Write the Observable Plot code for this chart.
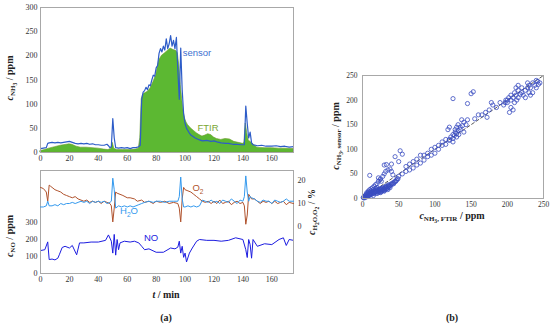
<!DOCTYPE html>
<html><head><meta charset="utf-8">
<script src="https://cdn.jsdelivr.net/npm/d3@7"></script>
<script src="https://cdn.jsdelivr.net/npm/@observablehq/plot@0.6"></script>
<style>
html,body{margin:0;padding:0;background:#fff;}
#wrap{position:relative;width:550px;height:329px;overflow:hidden;background:#fff;}
.p{position:absolute;}
.lab{position:absolute;white-space:nowrap;font-family:"Liberation Serif",serif;transform:translate(-50%,-50%);line-height:1;}
.rot{transform:translate(-50%,-50%) rotate(-90deg);}
.ser{font-weight:bold;font-size:10px;color:#222;}
.ser i{font-style:italic;}
sub{font-size:70%;vertical-align:-0.35em;line-height:0;}
sub sub{font-size:80%;}
.leg{position:absolute;white-space:nowrap;font-family:"Liberation Sans",Arial,sans-serif;font-size:9.5px;transform:translate(-50%,-50%);line-height:1;}
</style></head>
<body><div id="wrap"></div>
<script>
// ---- top panel: NH3 sensor vs FTIR over time (min, ppm)
const sensorT = [0,2,4,5,6,8,10,12,14,16,18,20,22,24,26,28,30,32,34,36,38,40,42,44,46,47,48,49,50,51,52,54,56,58,60,62,64,66,68,69,70,71,72,73,74,75,76,77,78,79,80,81,82,83,84,85,86,87,88,89,90,91,92,93,94,95,96,97,98,99,100,101,102,103,104,105,107,110,112,115,118,120,122,125,128,130,133,136,139,141,142,143,144,145,146,147,150,153,156,160,163,166,169,172,175];
const sensorV = [8,9,10,19,20,21,20,21,20,21,22,23,21,19,18,19,18,19,17,18,16,16,15,15,17,14,10,12,70,30,10,9,10,9,10,8,10,10,12,15,110,125,128,135,130,140,138,150,160,158,175,180,205,215,208,220,212,235,215,225,242,220,232,215,238,170,110,216,130,80,60,50,45,40,36,34,30,26,24,25,23,24,22,20,19,19,17,17,16,16,96,60,30,42,20,16,14,15,13,13,14,12,13,11,12];
const ftirT = [0,3,6,10,14,18,20,22,25,28,32,36,40,44,47,49,50,51,53,57,62,66,68,69,70,71,72,74,76,78,80,82,84,86,88,90,92,94,95,96,97,98,99,100,101,102,104,106,108,110,112,114,116,118,120,122,125,128,131,134,137,140,141,142,143,144,146,148,150,155,160,165,170,175];
const ftirV = [3,5,8,11,14,16,17,16,12,10,10,9,8,6,5,8,20,8,5,5,5,6,8,30,110,120,122,125,132,145,160,190,200,205,210,215,212,210,205,180,140,110,85,70,62,57,50,45,40,36,33,35,38,36,31,28,26,28,27,22,20,18,20,60,40,25,20,15,10,9,9,8,8,7];

// ---- bottom panel: NO (ppm), O2 and H2O (%)
const noT = [0,3,5,6,8,10,12,13,15,17,20,22,25,27,30,35,40,45,47,49,50,51,52,53,54,55,58,62,65,68,70,72,75,80,85,90,93,95,96,97,98,99,100,101,103,105,108,110,115,120,125,130,135,140,142,143,144,145,146,147,150,155,160,165,168,170,172,175];
const noV = [135,140,186,82,85,80,90,110,153,160,150,165,110,180,180,185,185,195,227,190,120,230,108,200,140,180,190,185,190,180,160,140,145,125,125,150,145,155,190,120,160,95,120,68,120,150,190,200,195,195,190,195,210,200,140,94,200,170,90,200,160,175,170,200,210,165,200,195];
const o2T = [0,2,4,5,6,7,8,10,12,14,16,18,20,22,24,26,28,30,32,34,36,38,40,42,44,46,48,49,50,51,52,53,55,57,60,62,65,67,70,72,75,78,80,83,86,89,92,95,96,97,98,99,100,102,104,106,108,110,112,114,116,118,120,122,124,126,128,130,132,134,136,138,140,141,142,143,144,145,146,148,150,152,154,156,158,160,162,164,166,168,170,172,175];
const o2V = [17,16.5,15,11,18,17.5,17,16,15.5,15,14,13.5,13,12.5,13,12,11.5,11,11.5,10.5,11,10.5,11,10,11,10.5,10,9,2,8,15,14.5,14,13.5,12.5,12.5,12,11,11.5,10.5,11,10,11,10.5,11,10,10.5,10,8,2,12,17,16,15.5,15,14,13,12,11,10.5,11,10,11,10,11.5,10,10.5,11,9.5,10.5,11,10,10.5,9,1,5,14,13,12,12,11,10,11,10.5,11,10,11,10,10.5,11,9.5,10.5,10];
const h2oT = [0,2,4,5,6,8,10,12,14,16,18,20,22,24,26,28,30,32,34,36,38,40,42,44,46,48,49,50,51,52,54,56,58,60,62,64,66,68,70,72,75,78,80,83,86,89,92,95,96,97,98,99,100,102,104,106,108,110,112,114,116,118,120,122,124,126,128,130,132,134,136,138,140,141,142,143,144,145,146,148,150,152,154,156,158,160,162,164,166,168,170,172,175];
const h2oV = [8.5,8.5,9,11,9,9,9.5,9,10,9.5,10,10,10.5,10,10.5,11,10.5,11,10,11,10.5,11,10.5,11,10,10.5,11,21,16,8,9,8.5,9,8.5,9,8.5,9,9.5,10,10.5,11,10.5,11,11,10.5,11,11,11,13,21.5,12,8.5,8.5,9,8.5,9,8.5,9,11.5,11,10.5,11.5,10.5,11,10,11.5,11,10.5,12,11,10,11.5,11,13,22,15,11,13,12.5,12,11,10.5,11.5,11,11,10,11.5,11,10.5,11,12,11,11];

// ---- scatter: FTIR vs sensor (ppm)
const scFtir = [2,3,5,5,6,8,8,10,10,12,12,14,15,16,18,18,20,20,22,22,24,25,26,28,28,30,30,32,32,34,35,36,38,40,42,45,48,50,55,60,65,70,75,80,85,90,95,100,105,110,115,120,
 1,2,3,4,4,6,7,7,9,9,11,11,13,13,15,16,17,17,19,19,21,21,23,23,24,25,26,27,27,29,29,31,31,33,33,35,36,37,38,39,41,43,44,46,47,49,6,8,10,12,14,16,18,20,22,24,26,15,20,25,30,35,
 10,25,22,28,30,32,30,33,35,38,40,45,50,52,55,40,42,60,65,70,75,80,85,90,95,100,105,110,
 120,122,125,125,127,128,130,130,132,133,135,135,128,130,132,138,140,137,140,145,143,118,120,125,115,
 125,150,153,145,165,170,175,172,160,155,178,180,185,190,
 195,200,200,202,205,205,208,210,210,212,213,215,215,218,220,220,222,225,228,230,232,235,238,240,242,243,230,225,205,203,208,198,197,212,215,235,232,228,245,240];
const scSens = [3,5,4,8,10,6,12,8,14,10,16,12,18,10,14,20,15,22,16,12,18,20,14,18,22,20,16,22,25,20,26,28,25,30,32,35,40,45,50,55,58,62,68,72,78,85,88,92,100,108,110,118,
 2,1,3,6,2,5,8,4,6,10,7,12,9,14,11,14,12,16,13,17,14,18,15,19,13,17,19,16,21,17,20,18,22,20,24,22,24,26,22,28,29,30,33,35,37,40,12,15,18,20,22,25,28,30,35,38,35,6,10,12,15,18,
 47,40,42,45,50,55,68,69,58,60,70,85,75,97,90,55,48,65,70,75,80,88,88,92,100,104,108,115,
 120,125,130,122,128,135,132,125,138,130,140,145,140,145,150,148,135,160,155,160,150,140,145,115,120,
 203,213,217,193,170,175,180,165,170,162,195,190,185,195,
 190,200,195,205,210,200,205,215,195,210,200,220,205,212,215,225,210,220,225,230,225,235,230,240,238,232,215,205,185,175,180,200,195,225,230,215,210,235,235,225];
const diag = [0,250];

const xTicks = [0,20,40,60,80,100,120,140,160];
const nh3Ticks = [0,50,100,150,200,250,300];
const noTicks = [0,100,200,300];
const pctTicks = [0,10,20];
const scTicks = [0,50,100,150,200,250];

const C = {green:"#5cb832", sensor:"#2d5cc8", no:"#1c1ce0", h2o:"#3399ee", o2:"#b0522c", frame:"#a8a8a8", sc:"#3a4cc0"};
const style = {fontFamily:"Liberation Serif, serif", fontSize:"8px", background:"transparent", overflow:"visible", color:"#333"};
const wrap = document.getElementById("wrap");
function place(svg, left, top){ svg.classList.add("p"); svg.style.left=left+"px"; svg.style.top=top+"px"; wrap.appendChild(svg); }

const sensor = sensorT.map((t,i)=>({t, v:sensorV[i]}));
const ftir = ftirT.map((t,i)=>({t, v:ftirV[i]}));
const no = noT.map((t,i)=>({t, v:noV[i]}));
const o2 = o2T.map((t,i)=>({t, v:o2V[i]}));
const h2o = h2oT.map((t,i)=>({t, v:h2oV[i]}));
const sc = scFtir.map((f,i)=>({f, s:scSens[i]}));

// top
place(Plot.plot({
  width:300, height:166, marginLeft:40, marginRight:7, marginTop:7, marginBottom:14, style,
  x:{domain:[0,175]}, y:{domain:[0,300]},
  marks:[
    Plot.areaY(ftir,{x:"t", y:"v", fill:C.green, stroke:"#6f9a2c", strokeWidth:0.6}),
    Plot.lineY(sensor,{x:"t", y:"v", stroke:C.sensor, strokeWidth:1.2}),
    Plot.frame({stroke:C.frame}),
    Plot.axisX({ticks:xTicks, tickSize:0, tickPadding:3, label:null}),
    Plot.axisY({ticks:nh3Ticks, tickSize:0, tickPadding:3, label:null})
  ]
}), 0, 0);

// bottom NO (left axis)
place(Plot.plot({
  width:320, height:125, marginLeft:40, marginRight:27, marginTop:7, marginBottom:15, style,
  x:{domain:[0,175]}, y:{domain:[0,606]},
  marks:[
    Plot.lineY(no,{x:"t", y:"v", stroke:C.no, strokeWidth:1}),
    Plot.frame({stroke:C.frame}),
    Plot.axisX({ticks:xTicks, tickSize:0, tickPadding:3, label:null}),
    Plot.axisY({ticks:noTicks, tickSize:0, tickPadding:3, label:null})
  ]
}), 0, 163);

// bottom O2 / H2O (right axis)
place(Plot.plot({
  width:320, height:125, marginLeft:40, marginRight:27, marginTop:7, marginBottom:15, style,
  x:{domain:[0,175], axis:null}, y:{domain:[-20.4,24.35]},
  marks:[
    Plot.lineY(o2,{x:"t", y:"v", stroke:C.o2, strokeWidth:1}),
    Plot.lineY(h2o,{x:"t", y:"v", stroke:C.h2o, strokeWidth:1}),
    Plot.axisY({anchor:"right", ticks:pctTicks, tickSize:0, tickPadding:4, label:null})
  ]
}), 0, 163);

// scatter
place(Plot.plot({
  width:218, height:145, marginLeft:32, marginRight:5, marginTop:10, marginBottom:12,
  style:{...style, fontSize:"7.5px"},
  x:{domain:[0,250]}, y:{domain:[0,250]},
  marks:[
    Plot.line(diag.map(d=>({a:d})),{x:"a", y:"a", stroke:"#444", strokeWidth:0.9, strokeDasharray:"3,2.5"}),
    Plot.dot(sc,{x:"f", y:"s", r:2.1, stroke:C.sc, fill:"none", strokeWidth:0.8}),
    Plot.frame({stroke:C.frame}),
    Plot.axisX({ticks:scTicks, tickSize:0, tickPadding:3, label:null}),
    Plot.axisY({ticks:scTicks, tickSize:0, tickPadding:5, label:null})
  ]
}), 330, 65);

// text labels
const labels = [
  ['<i>c</i><sub>NH<sub>3</sub></sub> / ppm', 10, 78, true],
  ['<i>c</i><sub>NO</sub> / ppm', 10, 236, true],
  ['<i>c</i><sub>H<sub>2</sub>O,O<sub>2</sub></sub> / %', 312, 212, true],
  ['<i>t</i> / min', 166, 295, false],
  ['(a)', 166, 318, false],
  ['(b)', 452, 318, false],
  ['<i>c</i><sub>NH<sub>3</sub>, sensor</sub> / ppm', 336, 136, true],
  ['<i>c</i><sub>NH<sub>3</sub>, FTIR</sub> / ppm', 452, 216, false]
];
for (const [h,x,y,r] of labels){
  const d=document.createElement("div"); d.className="lab ser"+(r?" rot":""); d.innerHTML=h;
  d.style.left=x+"px"; d.style.top=y+"px"; wrap.appendChild(d);
}
const legs = [
  ['sensor', 197, 53, "#3d6fd0"],
  ['FTIR', 208, 128, "#7aa632"],
  ['O<sub>2</sub>', 198, 188, C.o2],
  ['H<sub>2</sub>O', 129, 211, C.h2o],
  ['NO', 151, 238, C.no]
];
for (const [h,x,y,c] of legs){
  const d=document.createElement("div"); d.className="leg"; d.innerHTML=h; d.style.color=c;
  d.style.left=x+"px"; d.style.top=y+"px"; wrap.appendChild(d);
}
</script></body></html>
